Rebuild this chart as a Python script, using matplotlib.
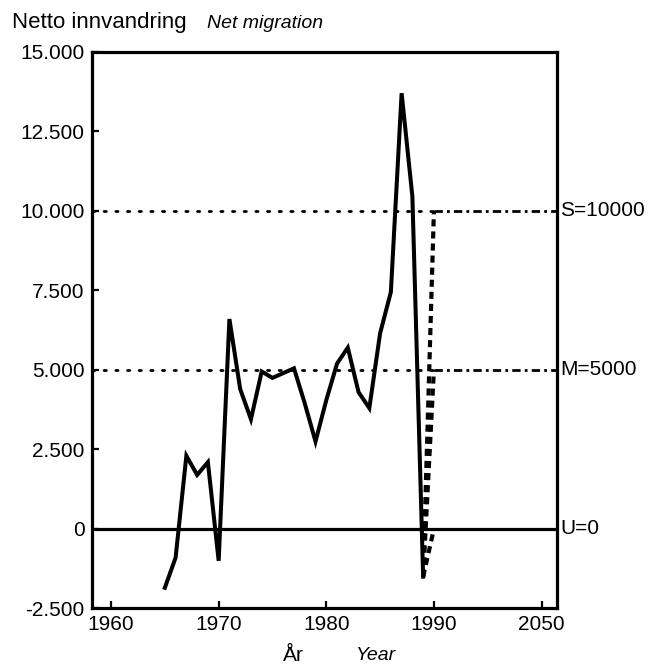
import numpy as np
import matplotlib
matplotlib.use("Agg")
import matplotlib.pyplot as plt
from matplotlib.ticker import FuncFormatter

plt.rcParams['font.family'] = ['Liberation Sans', 'DejaVu Sans']

# netto innvandring, historisk
years = [1965, 1966, 1967, 1968, 1969, 1970, 1971, 1972, 1973, 1974, 1975,
         1976, 1977, 1978, 1979, 1980, 1981, 1982, 1983, 1984, 1985, 1986,
         1987, 1988, 1989]
netmig = [-1850, -900, 2300, 1700, 2100, -1000, 6600, 4400, 3450, 4950, 4750,
          4900, 5050, 3950, 2750, 4050, 5200, 5700, 4300, 3800, 6150, 7450,
          13700, 10450, -1500]

# alternativer
scen_names = ["S=10000", "M=5000", "U=0"]
scen_levels = [10000, 5000, 0]
scen_start = 1990
scen_end = 2060

xticks = [1960, 1970, 1980, 1990, 2050]
yticks = [-2500, 0, 2500, 5000, 7500, 10000, 12500, 15000]


# 1990-2050 er presset sammen
def fwd(x):
    x = np.asarray(x, dtype=float)
    return np.where(x <= 1990, x, 1990 + (x - 1990) / 6.0)


def inv(x):
    x = np.asarray(x, dtype=float)
    return np.where(x <= 1990, x, 1990 + (x - 1990) * 6.0)


fig = plt.figure(figsize=(6.69, 6.65), dpi=100)
ax = fig.add_axes([0.137, 0.085, 0.695, 0.837])
ax.set_xscale('function', functions=(fwd, inv))
xlo, xhi = 1958.2, 2058.4
ax.set_xlim(xlo, xhi)
ax.set_ylim(-2500, 15000)

# prikkete hjelpelinjer
for lvl in scen_levels[:2]:
    ax.plot([xlo, scen_start], [lvl, lvl], color='black', lw=2,
            linestyle=(0, (0.8, 3.4)), dash_capstyle='round')
ax.axhline(0, color='black', lw=2.3)

# fremskrivninger
for lvl in scen_levels:
    ax.plot([years[-1], scen_start], [netmig[-1], lvl], color='black', lw=3,
            linestyle=(0, (1.7, 1.2)))
    if lvl != 0:
        ax.plot([scen_start, scen_end], [lvl, lvl], color='black', lw=2,
                linestyle=(0, (3, 1.5, 1, 1.5)))

ax.plot(years, netmig, color='black', lw=2.9, solid_joinstyle='miter')

for name, lvl in zip(scen_names, scen_levels):
    ax.text(1.008, lvl, name, transform=ax.get_yaxis_transform(),
            va='center', ha='left', fontsize=15)

ax.set_xticks(xticks)
ax.set_xticklabels([str(t) for t in xticks])
ax.set_yticks(yticks)
ax.yaxis.set_major_formatter(FuncFormatter(lambda v, p: f"{v:,.0f}".replace(",", ".")))
ax.xaxis.set_minor_locator(plt.NullLocator())
ax.tick_params(direction='in', length=5, width=1.6, labelsize=15, pad=5)
for s in ax.spines.values():
    s.set_linewidth(2.3)

fig.text(0.018, 0.958, "Netto innvandring", fontsize=16, va='baseline', ha='left')
fig.text(0.309, 0.958, "Net migration", fontsize=14, style='italic',
         va='baseline', ha='left')
fig.text(0.438, 0.015, "År", fontsize=15, va='center', ha='center')
fig.text(0.562, 0.015, "Year", fontsize=14, style='italic', va='center', ha='center')

fig.savefig("out.png", dpi=100)
